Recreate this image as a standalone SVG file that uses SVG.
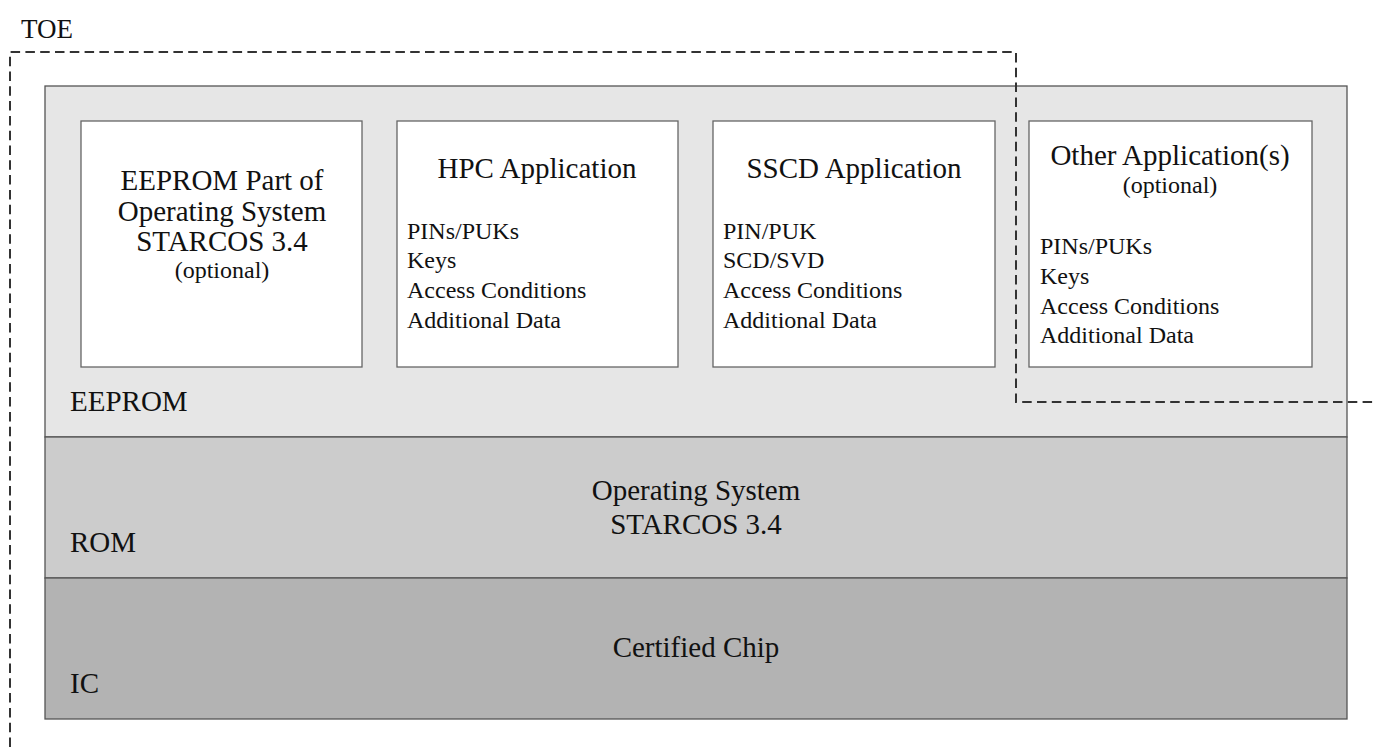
<svg xmlns="http://www.w3.org/2000/svg" width="1373" height="747" viewBox="0 0 1373 747">
<style>
text{font-family:"Liberation Serif","Times New Roman",serif;fill:#111}
.t{font-size:29px}
.s{font-size:24px}
.c{text-anchor:middle}
.box{fill:#fff;stroke:#666;stroke-width:1.3}
.layer{stroke:#555;stroke-width:1.3}
</style>
<rect width="1373" height="747" fill="#fff"/>
<g id="eeprom-layer">
<rect class="layer" x="45" y="86" width="1302" height="351" fill="#e6e6e6" stroke="#777"/>
<text class="t" x="70" y="411">EEPROM</text>
</g>
<g id="rom-layer">
<rect class="layer" x="45" y="437" width="1302" height="141" fill="#cccccc"/>
<text class="t c" x="696" y="500">Operating System</text>
<text class="t c" x="696" y="534">STARCOS 3.4</text>
<text class="t" x="70" y="552">ROM</text>
</g>
<g id="ic-layer">
<rect class="layer" x="45" y="578" width="1302" height="141" fill="#b3b3b3"/>
<text class="t c" x="696" y="657">Certified Chip</text>
<text class="t" x="70" y="693">IC</text>
</g>
<g id="eeprom-os">
<rect class="box" x="81" y="121" width="281" height="246"/>
<text class="t c" x="222" y="190">EEPROM Part of</text>
<text class="t c" x="222" y="221">Operating System</text>
<text class="t c" x="222" y="251">STARCOS 3.4</text>
<text class="s c" x="222" y="278">(optional)</text>
</g>
<g id="hpc-app">
<rect class="box" x="397" y="121" width="281" height="246"/>
<text class="t c" x="537" y="178">HPC Application</text>
<text class="s" x="407" y="239">PINs/PUKs</text>
<text class="s" x="407" y="268">Keys</text>
<text class="s" x="407" y="298">Access Conditions</text>
<text class="s" x="407" y="328">Additional Data</text>
</g>
<g id="sscd-app">
<rect class="box" x="713" y="121" width="282" height="246"/>
<text class="t c" x="854" y="178">SSCD Application</text>
<text class="s" x="723" y="239">PIN/PUK</text>
<text class="s" x="723" y="268">SCD/SVD</text>
<text class="s" x="723" y="298">Access Conditions</text>
<text class="s" x="723" y="328">Additional Data</text>
</g>
<g id="other-app">
<rect class="box" x="1029" y="121" width="283" height="246"/>
<text class="t c" x="1170" y="165">Other Application(s)</text>
<text class="s c" x="1170" y="193">(optional)</text>
<text class="s" x="1040" y="254">PINs/PUKs</text>
<text class="s" x="1040" y="284">Keys</text>
<text class="s" x="1040" y="314">Access Conditions</text>
<text class="s" x="1040" y="343">Additional Data</text>
</g>
<g id="connectors">
<path d="M10,747 L10,52 L1016,52 L1016,402 L1373,402" fill="none" stroke="#333" stroke-width="2" stroke-dasharray="9.5 5.3"/>
</g>
<g id="toe">
<text x="21" y="38" style="font-size:27px">TOE</text>
</g>
</svg>
